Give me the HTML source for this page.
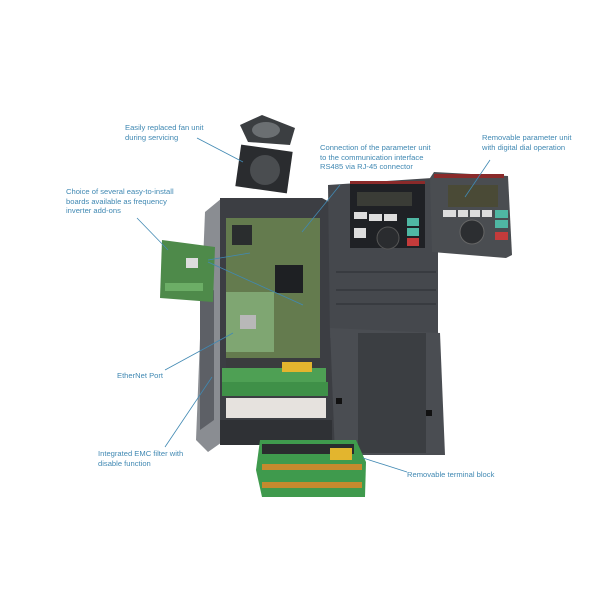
<!DOCTYPE html>
<html><head><meta charset="utf-8"><style>
html,body{margin:0;padding:0;background:#fff;}
svg{display:block}
text{font-family:"Liberation Sans",sans-serif;font-size:7.6px;fill:#4189b3;}
</style></head><body>
<svg width="600" height="600" viewBox="0 0 600 600" xmlns="http://www.w3.org/2000/svg">
<rect width="600" height="600" fill="#fff"/>
<!-- housing side -->
<polygon points="205,212 222,198 225,440 208,452 196,440" fill="#8a8d92"/>
<polygon points="200,300 214,290 214,420 200,430" fill="#5d6066"/>
<!-- housing back -->
<polygon points="220,198 322,198 335,205 335,445 220,445" fill="#3c3e43"/>
<!-- pcb -->
<rect x="226" y="218" width="94" height="140" fill="#647b4e"/>
<rect x="275" y="265" width="28" height="28" fill="#1e2023"/>
<rect x="232" y="225" width="20" height="20" fill="#2a2d2e"/>
<rect x="226" y="292" width="48" height="60" fill="#7fa672"/>
<rect x="240" y="315" width="16" height="14" fill="#b8b8b8"/>
<rect x="226" y="358" width="94" height="14" fill="#3a3c3e"/>
<!-- terminals inside -->
<rect x="222" y="368" width="104" height="14" fill="#4ea054"/>
<rect x="222" y="382" width="106" height="14" fill="#3f9048"/>
<rect x="282" y="362" width="30" height="10" fill="#e3b52e"/>
<rect x="226" y="398" width="100" height="20" fill="#e6e2de"/>
<rect x="220" y="420" width="112" height="25" fill="#2f3135"/>
<!-- fan -->
<polygon points="240,125 262,115 295,128 290,145 248,142" fill="#3b3e41"/>
<ellipse cx="266" cy="130" rx="14" ry="8" fill="#6b6f72"/>
<rect x="238" y="148" width="52" height="42" fill="#2a2c2f" transform="rotate(8 264 169)"/>
<circle cx="265" cy="170" r="15" fill="#4a4d50"/>
<!-- upper front cover -->
<polygon points="328,185 432,178 438,185 438,335 330,338" fill="#45484d"/>
<rect x="350" y="183" width="75" height="65" fill="#1f2125"/>
<rect x="357" y="192" width="55" height="14" fill="#3a3c36"/>
<rect x="354" y="212" width="13" height="7" fill="#ddd"/><rect x="369" y="214" width="13" height="7" fill="#ddd"/><rect x="384" y="214" width="13" height="7" fill="#ddd"/>
<rect x="407" y="218" width="12" height="8" fill="#4fb7a3"/><rect x="407" y="228" width="12" height="8" fill="#4fb7a3"/><rect x="407" y="238" width="12" height="8" fill="#c43b3b"/>
<circle cx="388" cy="238" r="11" fill="#2a2c2f" stroke="#555" stroke-width="1"/>
<rect x="354" y="228" width="12" height="10" fill="#ddd"/>
<rect x="350" y="181" width="75" height="3" fill="#8a2a2a"/>
<line x1="336" y1="272" x2="436" y2="272" stroke="#2c2e32"/>
<line x1="336" y1="290" x2="436" y2="290" stroke="#2c2e32"/>
<line x1="336" y1="304" x2="436" y2="304" stroke="#2c2e32"/>
<!-- lower cover -->
<polygon points="330,328 440,333 445,455 335,455" fill="#4a4d52"/>
<rect x="358" y="333" width="68" height="120" fill="#3b3e42"/>
<rect x="336" y="398" width="6" height="6" fill="#111"/><rect x="426" y="410" width="6" height="6" fill="#111"/>
<!-- parameter unit -->
<polygon points="430,178 434,172 508,176 512,255 506,258 432,252" fill="#4a4d51"/>
<rect x="434" y="174" width="70" height="4" fill="#8a2a2a"/>
<rect x="448" y="185" width="50" height="22" fill="#4a4a36"/>
<rect x="443" y="210" width="13" height="7" fill="#ddd"/><rect x="458" y="210" width="10" height="7" fill="#ddd"/><rect x="470" y="210" width="10" height="7" fill="#ddd"/><rect x="482" y="210" width="10" height="7" fill="#ddd"/>
<rect x="495" y="210" width="13" height="8" fill="#4fb7a3"/><rect x="495" y="220" width="13" height="8" fill="#4fb7a3"/><rect x="495" y="232" width="13" height="8" fill="#c43b3b"/>
<circle cx="472" cy="232" r="12" fill="#2c2e31" stroke="#666"/>
<!-- option board -->
<polygon points="162,240 215,247 213,302 160,298" fill="#4e8a4a"/>
<rect x="186" y="258" width="12" height="10" fill="#ddd"/>
<rect x="165" y="283" width="38" height="8" fill="#6cae66"/>
<!-- terminal block bottom -->
<polygon points="260,440 356,440 366,462 365,497 262,497 256,470" fill="#3f9a4d"/>
<rect x="262" y="444" width="92" height="10" fill="#2a2c2e"/>
<rect x="262" y="464" width="100" height="6" fill="#c58a2e"/>
<rect x="262" y="482" width="100" height="6" fill="#c58a2e"/>
<rect x="330" y="448" width="22" height="12" fill="#e3b52e"/>
<!-- leader lines -->
<g stroke="#4189b3" stroke-width="0.8">
<line x1="197" y1="138" x2="243" y2="162"/>
<line x1="340" y1="185" x2="302" y2="232"/>
<line x1="490" y1="160" x2="465" y2="197"/>
<line x1="137" y1="218" x2="168" y2="250"/>
<line x1="208" y1="262" x2="303" y2="305"/>
<line x1="208" y1="260" x2="250" y2="253"/>
<line x1="165" y1="370" x2="233" y2="333"/>
<line x1="165" y1="447" x2="212" y2="377"/>
<line x1="407" y1="472" x2="363" y2="458"/>
</g>
<text x="125" y="130">Easily replaced fan unit</text>
<text x="125" y="140">during servicing</text>
<text x="320" y="150">Connection of the parameter unit</text>
<text x="320" y="160">to the communication interface</text>
<text x="320" y="169">RS485 via RJ-45 connector</text>
<text x="482" y="140">Removable parameter unit</text>
<text x="482" y="150">with digital dial operation</text>
<text x="66" y="194">Choice of several easy-to-install</text>
<text x="66" y="204">boards available as frequency</text>
<text x="66" y="213">inverter add-ons</text>
<text x="117" y="378">EtherNet Port</text>
<text x="98" y="456">Integrated EMC filter with</text>
<text x="98" y="466">disable function</text>
<text x="407" y="477">Removable terminal block</text>
</svg>
</body></html>
